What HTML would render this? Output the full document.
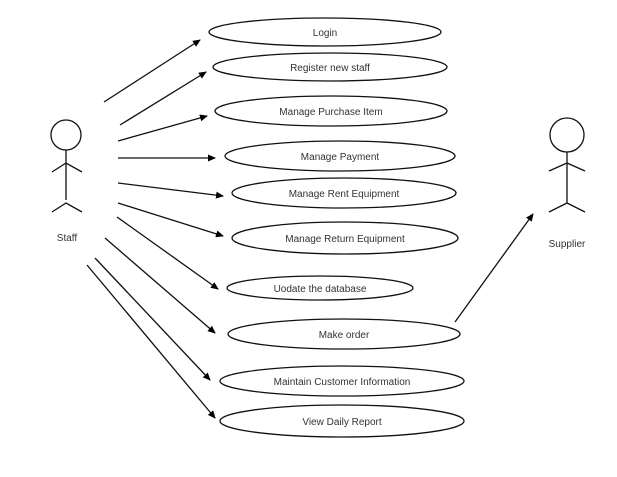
<!DOCTYPE html>
<html><head><meta charset="utf-8"><style>
html,body{margin:0;padding:0;background:#fff;}
svg text{font-family:"Liberation Sans",sans-serif;font-size:10px;fill:#333;}
</style></head><body>
<svg width="617" height="472" viewBox="0 0 617 472" xmlns="http://www.w3.org/2000/svg">
<defs><marker id="a" markerWidth="8" markerHeight="8" refX="7" refY="4" orient="auto" markerUnits="userSpaceOnUse"><path d="M0,0.5 L8,4 L0,7.5 z" fill="#000"/></marker></defs>
<g fill="none" stroke="#111" stroke-width="1.3">
<ellipse cx="325" cy="32" rx="116" ry="14"/>
<ellipse cx="330" cy="67" rx="117" ry="14"/>
<ellipse cx="331" cy="111" rx="116" ry="15"/>
<ellipse cx="340" cy="156" rx="115" ry="15"/>
<ellipse cx="344" cy="193" rx="112" ry="15"/>
<ellipse cx="345" cy="238" rx="113" ry="16"/>
<ellipse cx="320" cy="288" rx="93" ry="12"/>
<ellipse cx="344" cy="334" rx="116" ry="15"/>
<ellipse cx="342" cy="381" rx="122" ry="15"/>
<ellipse cx="342" cy="421" rx="122" ry="16"/>
<circle cx="66" cy="135" r="15"/>
<path d="M66 150V200M52 172L66 163L82 172M52 212L66 203L82 212"/>
<circle cx="567" cy="135" r="17"/>
<path d="M567 152V203M549 171L567 163L585 171M549 212L567 203L585 212"/>
<g marker-end="url(#a)">
<line x1="104" y1="102" x2="200" y2="40"/>
<line x1="120" y1="125" x2="206" y2="72"/>
<line x1="118" y1="141" x2="207" y2="116"/>
<line x1="118" y1="158" x2="215" y2="158"/>
<line x1="118" y1="183" x2="223" y2="196"/>
<line x1="118" y1="203" x2="223" y2="236"/>
<line x1="117" y1="217" x2="218" y2="289"/>
<line x1="105" y1="238" x2="215" y2="333"/>
<line x1="95" y1="258" x2="210" y2="380"/>
<line x1="87" y1="265" x2="215" y2="418"/>
<line x1="455" y1="322" x2="533" y2="214"/>
</g>
</g>
<g text-anchor="middle">
<text x="325" y="36">Login</text>
<text x="330" y="71">Register new staff</text>
<text x="331" y="115">Manage Purchase Item</text>
<text x="340" y="160">Manage Payment</text>
<text x="344" y="197">Manage Rent Equipment</text>
<text x="345" y="242">Manage Return Equipment</text>
<text x="320" y="292">Uodate the database</text>
<text x="344" y="338">Make order</text>
<text x="342" y="385">Maintain Customer Information</text>
<text x="342" y="425">View Daily Report</text>
<text x="67" y="241">Staff</text>
<text x="567" y="247">Supplier</text>
</g>
</svg>
</body></html>
